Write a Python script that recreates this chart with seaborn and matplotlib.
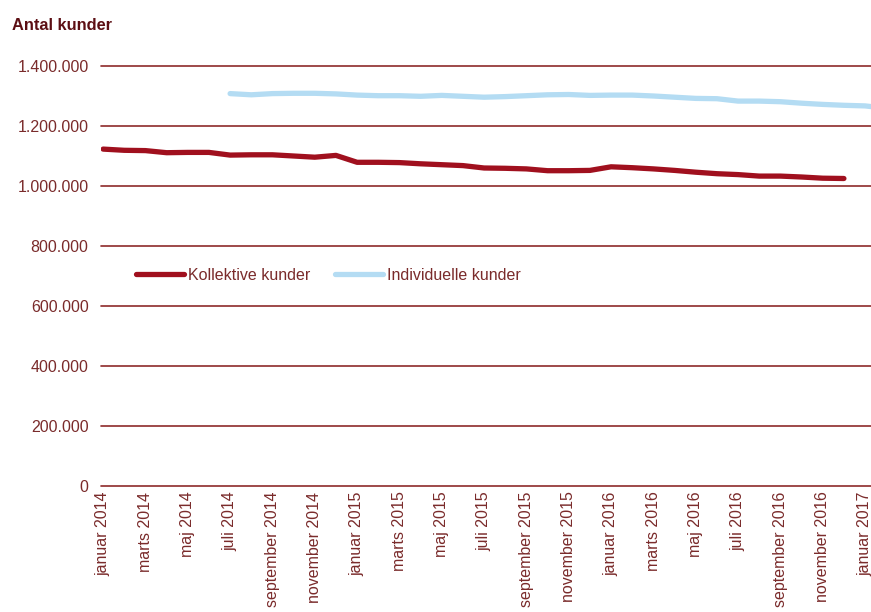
import matplotlib
matplotlib.use("Agg")
import matplotlib.pyplot as plt
import seaborn as sns
import numpy as np
import pandas as pd

months = ["januar", "februar", "marts", "april", "maj", "juni", "juli", "august",
          "september", "oktober", "november", "december"]
years = [2014, 2015, 2016, 2017]
month_labels = [f"{m} {y}" for y in years for m in months][:38]

kollektive = [1123, 1119, 1118, 1111, 1112, 1112, 1103, 1104, 1104, 1100, 1096, 1102,
              1079, 1079, 1078, 1074, 1071, 1068, 1060, 1059, 1057, 1051, 1051, 1052,
              1064, 1061, 1057, 1052, 1046, 1041, 1038, 1033, 1033, 1030, 1026, 1025,
              None, None]
individuelle = [None, None, None, None, None, None,
                1308, 1304, 1308, 1309, 1309, 1307, 1303, 1301, 1301, 1299, 1302, 1299,
                1296, 1298, 1301, 1304, 1305, 1302, 1303, 1303, 1300, 1296, 1292, 1291,
                1283, 1283, 1281, 1276, 1272, 1269, 1267, 1259]

series_names = ["Kollektive kunder", "Individuelle kunder"]
colors = ["#a0101e", "#b4dcf3"]

rows = []
for name, vals in zip(series_names, [kollektive, individuelle]):
    for i, v in enumerate(vals):
        if v is not None:
            rows.append({"month": i, "value": v * 1000, "series": name})
df = pd.DataFrame(rows)

sns.set_theme(style="white")
plt.rcParams["font.family"] = ["Liberation Sans", "DejaVu Sans"]

text_color = "#7a2b2b"
grid_color = "#8e2a2a"

fig = plt.figure(figsize=(8.71, 6.12), dpi=100)
ax = fig.add_axes([101 / 871, 1 - 486 / 612, 1 - 101 / 871, 420 / 612])

yticks = np.arange(0, 1400001, 200000)
for yv in yticks:
    ax.axhline(yv, color=grid_color, lw=1.2, zorder=0, clip_on=False)

sns.lineplot(data=df, x="month", y="value", hue="series", hue_order=series_names,
             palette=dict(zip(series_names, colors)), linewidth=3.8, ax=ax,
             solid_capstyle="round", zorder=3)

ax.set_xlim(-0.1, 36.28)
ax.set_ylim(0, 1400000)
ax.set_xticks(range(0, 37, 2))
ax.set_xticklabels([month_labels[i] for i in range(0, 37, 2)], rotation=90,
                   fontsize=11.5, color=text_color)
ax.set_yticks(yticks)
ax.set_yticklabels([f"{int(v):,}".replace(",", ".") for v in yticks],
                   fontsize=11.5, color=text_color)
ax.tick_params(axis="x", length=0, pad=4)
ax.tick_params(axis="y", length=0, pad=9)
ax.set_xlabel("")
ax.set_ylabel("")
for s in ax.spines.values():
    s.set_visible(False)

fig.text(12 / 871, 1 - 25 / 612, "Antal kunder", fontsize=11.8, fontweight="bold",
         color="#5c0f14", va="center", ha="left")

leg = ax.legend(loc="center left", bbox_to_anchor=(0.045, 0.502), ncol=2, frameon=False,
                fontsize=11.5, handlelength=3.0, handletextpad=0.25, columnspacing=1.6,
                borderpad=0, borderaxespad=0)
for t in leg.get_texts():
    t.set_color(text_color)
for h in leg.legend_handles:
    h.set_linewidth(3.8)

fig.savefig("out.png", dpi=100)
